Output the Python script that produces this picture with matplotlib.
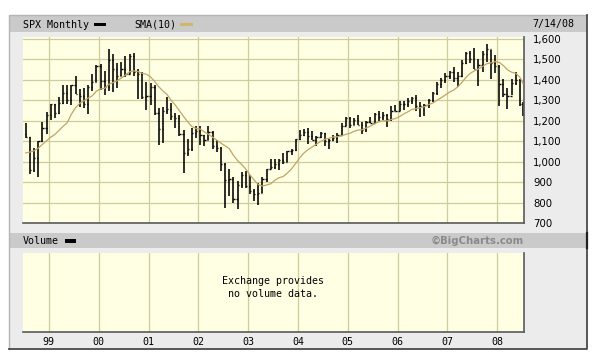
import matplotlib
matplotlib.use('Agg')
import matplotlib.pyplot as plt
import matplotlib.dates as mdates
from matplotlib.patches import Rectangle
import pandas as pd

# Data: SPX monthly bars, Jul 1998 .. Jul 2008 (through 7/14/08)
months = pd.date_range('1998-07-01', '2008-07-01', freq='MS')
last_date = pd.Timestamp('2008-07-14')

opens = [
    1133.84, 1120.67, 957.28, 1017.01, 1098.67, 1163.63,
    1229.23, 1279.64, 1238.33, 1286.37, 1335.18, 1301.84, 1372.71, 1328.72, 1320.41, 1282.71, 1362.93, 1388.91,
    1469.25, 1394.46, 1366.42, 1498.58, 1452.43, 1420.60, 1454.60, 1430.83, 1517.68, 1436.51, 1429.40, 1314.95,
    1320.28, 1366.01, 1239.94, 1160.33, 1249.46, 1255.82, 1224.38, 1211.23, 1133.58, 1040.94, 1059.78, 1139.45,
    1148.08, 1130.20, 1106.73, 1147.39, 1076.92, 1067.14, 989.82, 911.62, 916.07, 815.28, 885.76, 936.31,
    879.82, 855.70, 841.15, 848.18, 916.92, 963.59, 974.50, 990.31, 1008.01, 995.97, 1050.71, 1058.20,
    1111.92, 1131.13, 1144.94, 1126.21, 1107.30, 1120.68, 1140.84, 1101.72, 1104.24, 1114.58, 1130.20, 1173.82,
    1211.92, 1181.27, 1203.60, 1180.59, 1156.85, 1191.50, 1191.33, 1234.18, 1220.33, 1228.81, 1207.01, 1249.48,
    1248.29, 1280.08, 1280.66, 1294.83, 1310.61, 1270.09, 1270.20, 1276.66, 1303.82, 1335.85, 1377.94, 1400.63,
    1418.30, 1438.24, 1406.82, 1420.86, 1482.37, 1530.62, 1503.35, 1455.27, 1473.99, 1526.75, 1549.38, 1481.14,
    1468.36, 1378.55, 1330.63, 1322.70, 1385.59, 1400.38, 1280.00,
]
highs = [
    1190.58, 1121.29, 1066.11, 1100.56, 1192.97, 1244.93,
    1280.37, 1283.75, 1316.55, 1372.93, 1375.98, 1375.83, 1420.33, 1352.95, 1361.32, 1373.17, 1427.55, 1473.00,
    1478.00, 1444.55, 1552.87, 1527.19, 1481.51, 1488.92, 1517.32, 1525.21, 1530.09, 1454.82, 1438.46, 1389.06,
    1383.37, 1376.38, 1263.47, 1269.30, 1315.93, 1286.62, 1239.78, 1226.27, 1155.40, 1110.61, 1163.38, 1173.62,
    1176.55, 1130.20, 1173.94, 1147.84, 1106.59, 1070.74, 994.46, 965.00, 924.02, 907.44, 951.57, 954.28,
    935.05, 864.64, 895.90, 924.24, 965.38, 1015.33, 1015.41, 1011.01, 1040.29, 1053.79, 1063.65, 1112.56,
    1155.38, 1158.98, 1163.23, 1150.57, 1127.74, 1146.34, 1140.84, 1109.68, 1131.54, 1142.05, 1188.46, 1217.33,
    1217.80, 1212.44, 1229.11, 1191.88, 1199.56, 1219.59, 1236.79, 1245.86, 1243.13, 1233.34, 1270.64, 1275.80,
    1294.90, 1297.57, 1310.88, 1318.16, 1326.70, 1290.68, 1280.42, 1306.74, 1340.28, 1389.45, 1407.89, 1431.81,
    1441.61, 1461.57, 1438.89, 1498.02, 1535.56, 1540.56, 1555.90, 1503.89, 1538.74, 1576.09, 1545.79, 1523.57,
    1471.77, 1406.38, 1359.68, 1404.57, 1440.24, 1404.05, 1292.17,
]
lows = [
    1114.30, 939.98, 948.00, 923.32, 1096.00, 1136.89,
    1205.46, 1211.89, 1234.35, 1282.56, 1281.41, 1277.31, 1328.46, 1268.37, 1263.13, 1233.70, 1344.00, 1387.38,
    1350.14, 1325.07, 1346.62, 1339.40, 1361.09, 1420.60, 1413.89, 1430.83, 1419.44, 1305.79, 1306.01, 1254.07,
    1274.62, 1228.33, 1081.19, 1091.99, 1232.00, 1203.03, 1165.54, 1124.87, 944.75, 1026.76, 1054.31, 1114.51,
    1081.66, 1074.36, 1106.73, 1063.46, 1048.96, 952.92, 775.68, 833.44, 800.20, 768.63, 872.05, 869.45,
    840.34, 806.29, 788.90, 847.85, 902.83, 963.59, 962.10, 960.84, 990.36, 995.97, 1031.20, 1053.41,
    1105.08, 1124.44, 1087.16, 1107.23, 1076.32, 1113.32, 1078.78, 1060.72, 1099.18, 1090.19, 1127.60, 1173.76,
    1163.75, 1180.95, 1176.92, 1136.15, 1146.18, 1188.30, 1191.33, 1201.07, 1205.35, 1168.20, 1201.07, 1246.59,
    1245.74, 1253.61, 1268.42, 1280.74, 1245.34, 1219.29, 1224.54, 1261.30, 1290.93, 1327.10, 1360.98, 1385.93,
    1403.97, 1389.42, 1363.98, 1416.37, 1476.70, 1484.18, 1454.25, 1370.60, 1439.76, 1489.56, 1406.10, 1435.65,
    1270.05, 1316.75, 1256.98, 1324.35, 1373.72, 1272.00, 1225.00,
]
closes = [
    1120.67, 957.28, 1017.01, 1098.67, 1163.63, 1229.23,
    1279.64, 1238.33, 1286.37, 1335.18, 1301.84, 1372.71, 1328.72, 1320.41, 1282.71, 1362.93, 1388.91, 1469.25,
    1394.46, 1366.42, 1498.58, 1452.43, 1420.60, 1454.60, 1430.83, 1517.68, 1436.51, 1429.40, 1314.95, 1320.28,
    1366.01, 1239.94, 1160.33, 1249.46, 1255.82, 1224.38, 1211.23, 1133.58, 1040.94, 1059.78, 1139.45, 1148.08,
    1130.20, 1106.73, 1147.39, 1076.92, 1067.14, 989.82, 911.62, 916.07, 815.28, 885.76, 936.31, 879.82,
    855.70, 841.15, 848.18, 916.92, 963.59, 974.50, 990.31, 1008.01, 995.97, 1050.71, 1058.20, 1111.92,
    1131.13, 1144.94, 1126.21, 1107.30, 1120.68, 1140.84, 1101.72, 1104.24, 1114.58, 1130.20, 1173.82, 1211.92,
    1181.27, 1203.60, 1180.59, 1156.85, 1191.50, 1191.33, 1234.18, 1220.33, 1228.81, 1207.01, 1249.48, 1248.29,
    1280.08, 1280.66, 1294.83, 1310.61, 1270.09, 1270.20, 1276.66, 1303.82, 1335.85, 1377.94, 1400.63, 1418.30,
    1438.24, 1406.82, 1420.86, 1482.37, 1530.62, 1503.35, 1455.27, 1473.99, 1526.75, 1549.38, 1481.14, 1468.36,
    1378.55, 1330.63, 1322.70, 1385.59, 1400.38, 1280.00, 1228.30,
]
# closes Oct 1997 .. Jun 1998, needed to start the 10-month SMA
prior_closes = [914.62, 955.40, 970.43, 980.28, 1049.34, 1101.75, 1111.75, 1090.82, 1133.84]

price_ticks = [700, 800, 900, 1000, 1100, 1200, 1300, 1400, 1500, 1600]
year_labels = ['99', '00', '01', '02', '03', '04', '05', '06', '07', '08']

sma = pd.Series(prior_closes + closes).rolling(10).mean().iloc[len(prior_closes):].values

W, H = 612, 361
fig = plt.figure(figsize=(W / 100, H / 100), dpi=100)
fig.patch.set_facecolor('white')

mono = 'DejaVu Sans Mono'
cream = '#FFFFE3'
gridc = '#CFCC9C'
barc = '#CACACA'

# background, in pixel coordinates
bg = fig.add_axes([0, 0, 1, 1], zorder=0)
bg.set_xlim(0, W)
bg.set_ylim(H, 0)
bg.axis('off')
bg.add_patch(Rectangle((9, 15), 578, 334, fc='#ECECEC', ec='none'))
bg.add_patch(Rectangle((9, 15), 578, 17, fc=barc, ec='none'))
bg.add_patch(Rectangle((9, 233), 578, 15, fc=barc, ec='none'))
bg.plot([9, 9, 587], [349, 15, 15], color='#B4B4B4', lw=1)
bg.plot([9, 587, 587], [349, 349, 15], color='#4A4A4A', lw=1.3)
bg.plot([587, 587], [233, 248], color='#202020', lw=1.6)

bg.text(23, 24.5, 'SPX Monthly', family=mono, fontsize=7.2, va='center')
bg.add_patch(Rectangle((94, 22.5), 12, 3.2, fc='black', ec='none'))
bg.text(134.5, 24.5, 'SMA(10)', family=mono, fontsize=7.2, va='center')
bg.add_patch(Rectangle((180, 22.5), 13, 3.2, fc='#D2B46E', ec='none'))
bg.text(574, 24.5, '7/14/08', family=mono, fontsize=7.2, va='center', ha='right')
bg.text(23, 241, 'Volume', family=mono, fontsize=7.2, va='center')
bg.add_patch(Rectangle((65, 239.3), 11, 3.2, fc='black', ec='none'))
bg.text(524, 241, '\u00a9BigCharts.com', fontsize=7.3, fontweight='bold', color='#8A8A8A',
        va='center', ha='right')

# each bar sits at the middle of its trading period
starts = months
ends = (months + pd.offsets.MonthEnd(0)).where(months + pd.offsets.MonthEnd(0) < last_date, last_date)
x = mdates.date2num(starts + (ends - starts) / 2)
xmin = mdates.date2num(pd.Timestamp('1998-06-26'))
xmax = mdates.date2num(pd.Timestamp('2008-07-15'))
year_pos = mdates.date2num(pd.date_range('1999-01-01', '2008-01-01', freq='YS'))

def frame(ax):
    ax.set_facecolor(cream)
    ax.set_xlim(xmin, xmax)
    for s in ['top', 'left']:
        ax.spines[s].set_visible(False)
    for s in ['bottom', 'right']:
        ax.spines[s].set_color('#5A5A5A')
        ax.spines[s].set_linewidth(1.2)
    ax.set_xticks(year_pos)
    ax.tick_params(length=0)
    ax.set_axisbelow(True)

# price panel
ax = fig.add_axes([23 / W, 1 - 223 / H, 501 / W, 186.5 / H], zorder=2)
frame(ax)
ax.set_ylim(700, 1612)
ax.set_yticks(price_ticks)
ax.set_yticklabels([f'{v:,}' for v in price_ticks], fontsize=7.3)
ax.yaxis.tick_right()
ax.tick_params(axis='y', pad=6.5)
ax.set_xticklabels([])
ax.grid(True, color=gridc, lw=0.9)

tick = 9
ax.vlines(x, lows, highs, color='black', lw=1.15)
ax.hlines(opens, x - tick, x, color='black', lw=1.0)
ax.hlines(closes, x, x + tick, color='black', lw=1.0)
ax.plot(x, sma, color='#C2A468', lw=0.9, zorder=3)

# volume panel
axv = fig.add_axes([23 / W, 1 - 332 / H, 501 / W, 79 / H], zorder=2)
frame(axv)
axv.set_ylim(0, 1)
axv.set_yticks([])
axv.set_xticklabels(year_labels, family=mono, fontsize=7.2)
axv.tick_params(axis='x', pad=3.5)
axv.grid(True, axis='x', color=gridc, lw=0.9)
axv.text(272.6, 287.5, 'Exchange provides\nno volume data.', transform=bg.transData,
         family=mono, fontsize=7.2, ha='center', va='center', linespacing=1.3)

fig.savefig('out.png', dpi=100)
